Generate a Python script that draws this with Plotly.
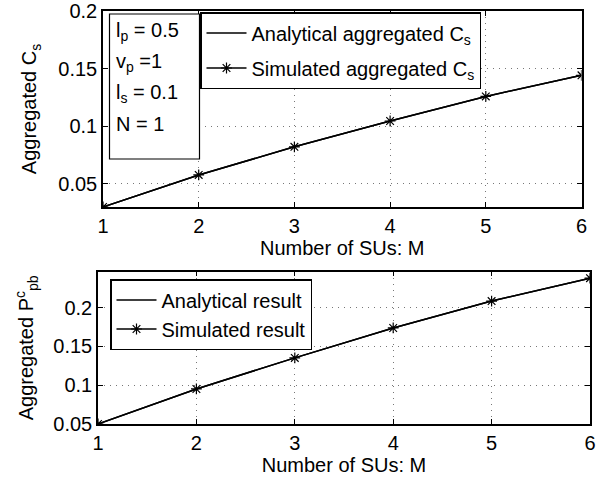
import plotly.graph_objects as go

M = [1, 2, 3, 4, 5, 6]
cs_analytical = [0.030, 0.0578, 0.0822, 0.1046, 0.1259, 0.1442]
cs_simulated = [0.030, 0.0578, 0.0822, 0.1046, 0.1259, 0.1442]
ppb_analytical = [0.050, 0.0952, 0.1353, 0.1739, 0.2086, 0.2382]
ppb_simulated = [0.050, 0.0952, 0.1353, 0.1739, 0.2086, 0.2382]

x_ticks = [1, 2, 3, 4, 5, 6]
y1_ticks = [0.05, 0.1, 0.15, 0.2]
y1_labels = ["0.05", "0.1", "0.15", "0.2"]
y2_ticks = [0.05, 0.1, 0.15, 0.2]
y2_labels = ["0.05", "0.1", "0.15", "0.2"]
param_lines = ["l<sub>p</sub> = 0.5", "v<sub>p</sub> =1", "l<sub>s</sub> = 0.1", "N = 1"]

FONT = "Liberation Sans, Arial, Helvetica, sans-serif"
FS = 20
W, H = 603, 478

fig = go.Figure()

line = dict(color="black", width=1.5)
mk = dict(symbol="asterisk-open", size=9, color="black", line=dict(color="black", width=1.2))

fig.add_trace(go.Scatter(x=M, y=cs_analytical, mode="lines", line=line, legendgroup="a",
                         name="Analytical aggregated C<sub>s</sub>", xaxis="x", yaxis="y", legend="legend"))
fig.add_trace(go.Scatter(x=M, y=cs_simulated, mode="lines+markers", line=line, marker=mk, legendgroup="b",
                         name="Simulated aggregated C<sub>s</sub>", xaxis="x", yaxis="y", legend="legend"))
fig.add_trace(go.Scatter(x=M, y=ppb_analytical, mode="lines", line=line,
                         name="Analytical result", xaxis="x2", yaxis="y2", legend="legend2"))
fig.add_trace(go.Scatter(x=M, y=ppb_simulated, mode="lines+markers", line=line, marker=mk,
                         name="Simulated result", xaxis="x2", yaxis="y2", legend="legend2"))

def px_x(p):
    return p / W

def px_y(p):
    return 1 - p / H

axis_common = dict(
    showline=True, linecolor="black", linewidth=1.5, mirror="ticks",
    ticks="inside", ticklen=5, tickcolor="black", tickwidth=1,
    showgrid=True, gridcolor="#777777", griddash="1px,5px", gridwidth=1,
    zeroline=False, automargin=False,
    tickfont=dict(family=FONT, size=FS, color="black"),
    title_font=dict(family=FONT, size=FS, color="black"),
)

fig.update_layout(
    template="none",
    width=W, height=H,
    margin=dict(l=0, r=0, t=0, b=0),
    paper_bgcolor="white", plot_bgcolor="white",
    font=dict(family=FONT, size=FS, color="black"),
    xaxis=dict(domain=[px_x(103), px_x(581.5)], range=[1, 6], tickvals=x_ticks,
               anchor="y", title=dict(text="Number of SUs: M", standoff=0), **axis_common),
    yaxis=dict(domain=[px_y(207), px_y(11)], range=[0.03, 0.2], tickvals=y1_ticks, ticktext=y1_labels,
               anchor="x", title=dict(text="Aggregated C<sub>s</sub>", standoff=16), **axis_common),
    xaxis2=dict(domain=[px_x(98), px_x(590)], range=[1, 6], tickvals=x_ticks,
                anchor="y2", title=dict(text="Number of SUs: M", standoff=0), **axis_common),
    yaxis2=dict(domain=[px_y(424), px_y(271.7)], range=[0.05, 0.2465], tickvals=y2_ticks, ticktext=y2_labels,
                anchor="x2", title=dict(text="Aggregated P<sup>c</sup><sub>pb</sub>", standoff=14), **axis_common),
    legend=dict(x=px_x(200), y=px_y(12), xanchor="left", yanchor="top",
                bordercolor="black", borderwidth=1.5, bgcolor="white",
                font=dict(family=FONT, size=FS), tracegroupgap=6, itemwidth=40),
    legend2=dict(x=px_x(110), y=px_y(279), xanchor="left", yanchor="top",
                 bordercolor="black", borderwidth=1.5, bgcolor="white",
                 font=dict(family=FONT, size=FS), tracegroupgap=0, itemwidth=40),
    showlegend=True,
)

# Parameter text box on the top plot
fig.add_shape(type="rect", xref="paper", yref="paper",
              x0=px_x(109.5), x1=px_x(199.5), y0=px_y(159), y1=px_y(14),
              line=dict(color="black", width=1.2), fillcolor="white", layer="above")
for i, t in enumerate(param_lines):
    fig.add_annotation(xref="paper", yref="paper", x=px_x(114), y=px_y(32 + 30.5 * i),
                       xanchor="left", yanchor="middle", align="left", showarrow=False,
                       text=t, font=dict(family=FONT, size=FS, color="black"))

fig.write_html("out.html", config={"displayModeBar": False},
               post_script="document.body.style.margin='0px';")
